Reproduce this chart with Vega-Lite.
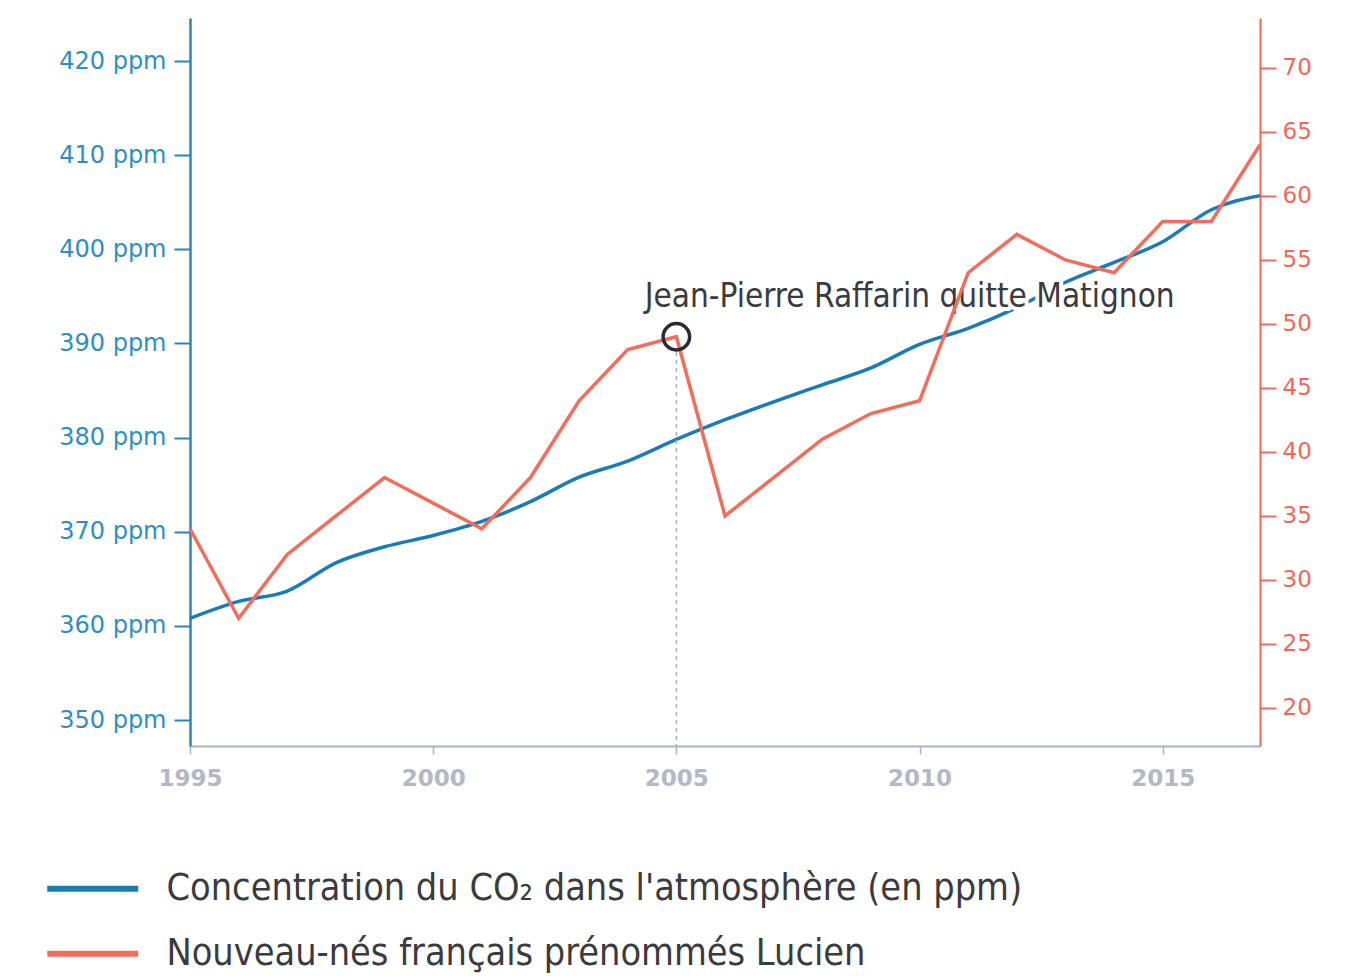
{
  "$schema": "https://vega.github.io/schema/vega-lite/v6.json",
  "width": 1070,
  "height": 728,
  "autosize": "none",
  "padding": {"left": 190, "top": 18, "right": 86, "bottom": 230},
  "background": "#ffffff",
  "config": {
    "view": {"stroke": null},
    "font": "DejaVu Sans"
  },
  "datasets": {
    "series": [
      {"year": 1995, "co2": 360.8, "lucien": 34},
      {"year": 1996, "co2": 362.6, "lucien": 27},
      {"year": 1997, "co2": 363.7, "lucien": 32},
      {"year": 1998, "co2": 366.7, "lucien": 35},
      {"year": 1999, "co2": 368.4, "lucien": 38},
      {"year": 2000, "co2": 369.6, "lucien": 36},
      {"year": 2001, "co2": 371.1, "lucien": 34},
      {"year": 2002, "co2": 373.2, "lucien": 38},
      {"year": 2003, "co2": 375.8, "lucien": 44},
      {"year": 2004, "co2": 377.5, "lucien": 48},
      {"year": 2005, "co2": 379.8, "lucien": 49},
      {"year": 2006, "co2": 381.9, "lucien": 35},
      {"year": 2007, "co2": 383.8, "lucien": 38},
      {"year": 2008, "co2": 385.6, "lucien": 41},
      {"year": 2009, "co2": 387.4, "lucien": 43},
      {"year": 2010, "co2": 389.9, "lucien": 44},
      {"year": 2011, "co2": 391.6, "lucien": 54},
      {"year": 2012, "co2": 393.8, "lucien": 57},
      {"year": 2013, "co2": 396.5, "lucien": 55},
      {"year": 2014, "co2": 398.6, "lucien": 54},
      {"year": 2015, "co2": 400.8, "lucien": 58},
      {"year": 2016, "co2": 404.2, "lucien": 58},
      {"year": 2017, "co2": 405.7, "lucien": 64}
    ],
    "note": [
      {"year": 2004.35, "value": 51.3, "label": "Jean-Pierre Raffarin quitte Matignon"}
    ],
    "event": [
      {"year": 2005, "value": 49, "top": 47.8, "bottom": 17.03}
    ]
  },
  "encoding": {
    "x": {
      "field": "year",
      "type": "quantitative",
      "scale": {"domain": [1995, 2017], "nice": false, "zero": false},
      "axis": {
        "title": null,
        "values": [1995, 2000, 2005, 2010, 2015],
        "format": "d",
        "grid": false,
        "domainColor": "#aab1c0",
        "domainWidth": 2,
        "tickColor": "#aab1c0",
        "tickWidth": 1.5,
        "tickSize": 8,
        "labelColor": "#b3b8c4",
        "labelFont": "DejaVu Sans",
        "labelFontSize": 23,
        "labelFontWeight": "bold",
        "labelPadding": 13,
        "labelFlush": false
      }
    }
  },
  "layer": [
    {
      "data": {"name": "series"},
      "mark": {"type": "line", "strokeWidth": 3.5, "interpolate": "monotone"},
      "encoding": {
        "y": {
          "field": "co2",
          "type": "quantitative",
          "scale": {"domain": [347.24, 424.57], "nice": false, "zero": false},
          "axis": {
            "orient": "left",
            "title": null,
            "values": [350, 360, 370, 380, 390, 400, 410, 420],
            "labelExpr": "datum.label + ' ppm'",
            "grid": false,
            "domainColor": "#2a86b6",
            "domainWidth": 2.5,
            "tickColor": "#2a86b6",
            "tickWidth": 2,
            "tickSize": 16,
            "labelColor": "#2c8fc4",
            "labelFont": "DejaVu Sans",
            "labelFontSize": 24,
            "labelPadding": 8
          }
        },
        "color": {
          "datum": "Concentration du CO₂ dans l'atmosphère (en ppm)",
          "type": "nominal",
          "scale": {
            "domain": ["Concentration du CO₂ dans l'atmosphère (en ppm)", "Nouveau-nés français prénommés Lucien"],
            "range": ["#1b7ab8", "#f26d5c"]
          },
          "legend": {
            "title": null,
            "orient": "none",
            "legendX": -116,
            "legendY": 852,
            "direction": "vertical",
            "symbolType": "M-3,0H3",
            "symbolSize": 920,
            "symbolStrokeWidth": 6,
            "labelFont": "DejaVu Sans Condensed, Roboto Condensed, Roboto",
            "labelFontSize": 37.5,
            "labelColor": "#3a3a3f",
            "labelOffset": 55,
            "rowPadding": 26,
            "labelLimit": 1200
          }
        }
      }
    },
    {
      "layer": [
        {
          "data": {"name": "note"},
          "mark": {"type": "text", "align": "left", "baseline": "alphabetic", "font": "DejaVu Sans Condensed, Roboto Condensed, Roboto", "fontSize": 33, "stroke": "#ffffff", "strokeWidth": 8, "strokeJoin": "round", "fill": "#ffffff"},
          "encoding": {
            "y": {"field": "value", "type": "quantitative"},
            "text": {"field": "label"}
          }
        },
        {
          "data": {"name": "note"},
          "mark": {"type": "text", "align": "left", "baseline": "alphabetic", "font": "DejaVu Sans Condensed, Roboto Condensed, Roboto", "fontSize": 33, "fill": "#3a3a40"},
          "encoding": {
            "y": {"field": "value", "type": "quantitative"},
            "text": {"field": "label"}
          }
        },
        {
          "data": {"name": "series"},
          "mark": {"type": "line", "strokeWidth": 3.5},
          "encoding": {
            "y": {
              "field": "lucien",
              "type": "quantitative",
              "scale": {"domain": [17.03, 73.9], "nice": false, "zero": false},
              "axis": {
                "orient": "right",
                "title": null,
                "values": [20, 25, 30, 35, 40, 45, 50, 55, 60, 65, 70],
                "grid": false,
                "domainColor": "#f0685a",
                "domainWidth": 2,
                "tickColor": "#f0685a",
                "tickWidth": 2,
                "tickSize": 16,
                "labelColor": "#f0685a",
                "labelFont": "DejaVu Sans",
                "labelFontSize": 23,
                "labelPadding": 6
              }
            },
            "color": {"datum": "Nouveau-nés français prénommés Lucien", "type": "nominal"}
          }
        },
        {
          "data": {"name": "event"},
          "mark": {"type": "rule", "color": "#a8adb8", "strokeWidth": 1.5, "strokeDash": [4, 4]},
          "encoding": {
            "y": {"field": "top", "type": "quantitative"},
            "y2": {"field": "bottom"}
          }
        },
        {
          "data": {"name": "event"},
          "mark": {"type": "point", "shape": "circle", "filled": false, "size": 700, "stroke": "#2a2a33", "strokeWidth": 3.5, "opacity": 1},
          "encoding": {
            "y": {"field": "value", "type": "quantitative"}
          }
        }
      ]
    }
  ],
  "resolve": {"scale": {"y": "independent"}}
}
